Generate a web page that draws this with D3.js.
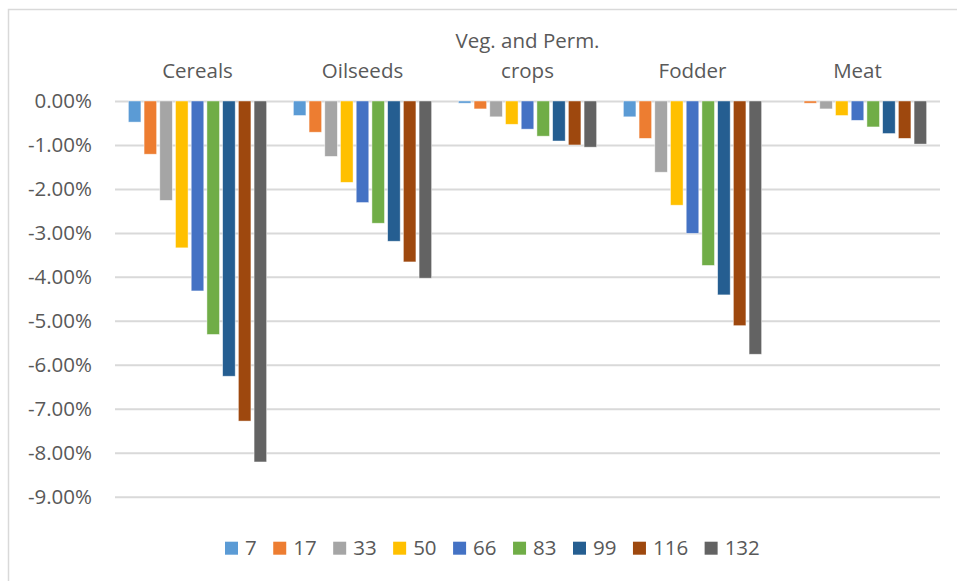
<!DOCTYPE html>
<html>
<head>
<meta charset="utf-8">
<script src="https://cdn.jsdelivr.net/npm/d3@7"></script>
<style>
  html, body { margin: 0; padding: 0; background: #fff; }
  svg { display: block; }
  text { font-family: "Open Sans", sans-serif; fill: #595959; }
</style>
</head>
<body>
<svg id="chart" width="957" height="581"></svg>
<script>
// ---- data ----
const categories = ["Cereals", "Oilseeds", "Veg. and Perm. crops", "Fodder", "Meat"];
const seriesNames = ["7", "17", "33", "50", "66", "83", "99", "116", "132"];
const seriesColors = ["#5B9BD5", "#ED7D31", "#A5A5A5", "#FFC000", "#4472C4", "#70AD47", "#255E91", "#9E480E", "#636363"];
// values in percent, one array per category (order follows seriesNames)
const cereals  = [-0.48, -1.21, -2.26, -3.34, -4.32, -5.31, -6.26, -7.28, -8.21];
const oilseeds = [-0.33, -0.71, -1.26, -1.85, -2.31, -2.78, -3.19, -3.66, -4.03];
const vegPerm  = [-0.05, -0.18, -0.36, -0.53, -0.64, -0.80, -0.91, -1.00, -1.05];
const fodder   = [-0.36, -0.85, -1.62, -2.37, -3.01, -3.74, -4.41, -5.11, -5.76];
const meat     = [0.00, -0.05, -0.18, -0.33, -0.44, -0.59, -0.74, -0.85, -0.98];
const yTicks = [0, -1, -2, -3, -4, -5, -6, -7, -8, -9];

const valuesByCategory = [cereals, oilseeds, vegPerm, fodder, meat];
const table = categories.map((c, i) => ({
  category: c,
  values: seriesNames.map((s, j) => ({ series: s, value: valuesByCategory[i][j], color: seriesColors[j] }))
}));

// ---- layout ----
const svg = d3.select("#chart");
const plot = { left: 115, right: 940, top: 101, bottom: 496.7 };
const fontSize = 20.5;

// outer chart border
svg.append("rect")
  .attr("x", 8.5).attr("y", 9.5)
  .attr("width", 1000).attr("height", 1000)
  .attr("fill", "none").attr("stroke", "#D9D9D9").attr("stroke-width", 1.5);

const y = d3.scaleLinear().domain([-9, 0]).range([plot.bottom, plot.top]);
const x0 = d3.scaleBand().domain(categories).range([plot.left, plot.right]).padding(0);
const x1 = d3.scaleBand().domain(seriesNames).range([0, x0.bandwidth()])
  .paddingInner(0.2).paddingOuter(0.85);

// y axis with gridlines
const yAxis = d3.axisLeft(y)
  .tickValues(yTicks)
  .tickSizeInner(-(plot.right - plot.left))
  .tickSizeOuter(0)
  .tickPadding(23)
  .tickFormat(d => (d === 0 ? 0 : d).toFixed(2) + "%");

const gy = svg.append("g").attr("transform", `translate(${plot.left},0)`).call(yAxis);
gy.select(".domain").remove();
gy.selectAll(".tick line").attr("stroke", "#D9D9D9").attr("stroke-width", 2);
gy.selectAll(".tick text")
  .attr("fill", "#595959")
  .style("font-size", fontSize + "px")
  .style("font-family", "'Open Sans', sans-serif");

// bars
const groups = svg.append("g").selectAll("g.cat")
  .data(table).join("g")
  .attr("class", "cat")
  .attr("transform", d => `translate(${x0(d.category)},0)`);

groups.selectAll("rect")
  .data(d => d.values).join("rect")
  .attr("x", d => x1(d.series))
  .attr("width", x1.bandwidth())
  .attr("y", d => Math.min(y(d.value), y(0)))
  .attr("height", d => Math.abs(y(d.value) - y(0)))
  .attr("fill", d => d.color)
  .attr("stroke", "#ffffff")
  .attr("stroke-opacity", 0.6)
  .attr("stroke-width", 0.75);

// category labels (top), wrapped
const maxLabelWidth = x0.bandwidth();
const lineHeight = 30;
const labelBaseline = 78;
const measure = svg.append("text").style("font-size", fontSize + "px").attr("visibility", "hidden");
function wrap(str) {
  const words = str.split(" ");
  const lines = [];
  let cur = "";
  words.forEach(w => {
    const t = cur ? cur + " " + w : w;
    measure.text(t);
    if (measure.node().getComputedTextLength() > maxLabelWidth && cur) {
      lines.push(cur); cur = w;
    } else cur = t;
  });
  if (cur) lines.push(cur);
  return lines;
}
categories.forEach(c => {
  const lines = wrap(c);
  const t = svg.append("text")
    .attr("text-anchor", "middle")
    .style("font-size", fontSize + "px");
  lines.forEach((ln, i) => {
    t.append("tspan")
      .attr("x", x0(c) + x0.bandwidth() / 2)
      .attr("y", labelBaseline - (lines.length - 1 - i) * lineHeight)
      .text(ln);
  });
});
measure.remove();

// legend
const legend = svg.append("g");
let lx = 225;
const swatch = 13, legendY = 541.7, gapAfterSwatch = 7, gapAfterText = 16.5;
seriesNames.forEach((s, i) => {
  legend.append("rect")
    .attr("x", lx).attr("y", legendY)
    .attr("width", swatch).attr("height", swatch)
    .attr("fill", seriesColors[i]);
  const t = legend.append("text")
    .attr("x", lx + swatch + gapAfterSwatch)
    .attr("y", legendY + 12.8)
    .style("font-size", fontSize + "px")
    .text(s);
  lx += swatch + gapAfterSwatch + t.node().getComputedTextLength() + gapAfterText;
});
</script>
</body>
</html>
